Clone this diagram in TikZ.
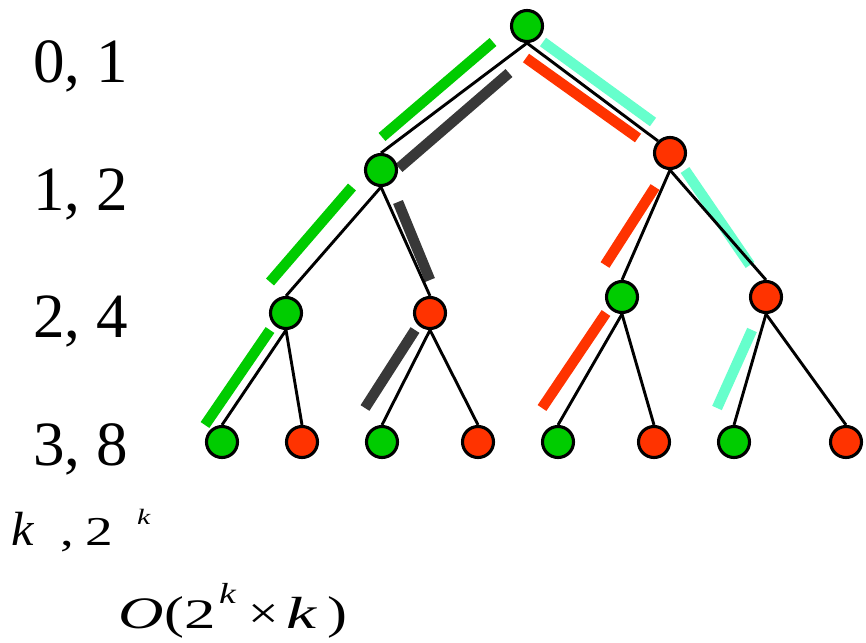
\documentclass[tikz,border=0pt]{standalone}
\usepackage{graphicx}
\usepackage{fontspec}
\setmainfont{Liberation Serif}
\definecolor{cgreen}{HTML}{00CC00}
\definecolor{cred}{HTML}{FF3300}
\definecolor{caqua}{HTML}{66FFCC}
\definecolor{cgray}{HTML}{383838}
\newcommand{\hsx}[2]{\scalebox{#1}[1]{#2}}
\begin{document}
\begin{tikzpicture}[x=1pt,y=-1pt,
  vnode/.style={circle,draw=black,line width=3.1pt,minimum size=31pt,inner sep=0pt},
  gnode/.style={vnode,fill=cgreen},
  rnode/.style={vnode,fill=cred},
  edgeline/.style={line width=2.9pt},
  bar/.style={line width=10.5pt,line cap=butt},
  lbl/.style={anchor=base west,inner sep=0pt,font=\fontsize{63}{63}\selectfont},
  fs/.style={anchor=base west,inner sep=0pt,font=\fontsize{#1}{#1}\selectfont}
]
\useasboundingbox[fill=white] (0,0) rectangle (866,642);

% colored bars
\draw[bar,cgreen] (493,42) -- (382,137);
\draw[bar,cgray]  (509,73) -- (399,168);
\draw[bar,cred]   (526,58) -- (638,138);
\draw[bar,caqua]  (543,42) -- (653,122);
\draw[bar,cgreen] (352,187) -- (270,282);
\draw[bar,cgray]  (398,202) -- (430,280);
\draw[bar,cred]   (655,187) -- (605,265);
\draw[bar,caqua]  (685,170) -- (750,265);
\draw[bar,cgreen] (270,330) -- (205,425);
\draw[bar,cgray]  (415,330) -- (365,408);
\draw[bar,cred]   (606,313) -- (542,408);
\draw[bar,caqua]  (752,330) -- (717,408);

% tree nodes
\node[gnode] (r) at (527,26) {};
\node[gnode] (a) at (381,170) {};
\node[rnode] (b) at (670,153) {};
\node[gnode] (c) at (286,313) {};
\node[rnode] (d) at (430,313) {};
\node[gnode] (e) at (622,297) {};
\node[rnode] (f) at (766,297) {};
\node[gnode] (l1) at (222,442) {};
\node[rnode] (l2) at (302,442) {};
\node[gnode] (l3) at (382,442) {};
\node[rnode] (l4) at (478,442) {};
\node[gnode] (l5) at (558,442) {};
\node[rnode] (l6) at (654,442) {};
\node[gnode] (l7) at (734,442) {};
\node[rnode] (l8) at (846,442) {};

% edges
\draw[edgeline] (r.south) -- (a.north);
\draw[edgeline] (r.south) -- (b.north west);
\draw[edgeline] (a.south) -- (c.north);
\draw[edgeline] (a.south) -- (d.north);
\draw[edgeline] (b.south) -- (e.north);
\draw[edgeline] (b.south) -- (f.north);
\draw[edgeline] (c.south) -- (l1.north);
\draw[edgeline] (c.south) -- (l2.north);
\draw[edgeline] (d.south) -- (l3.north);
\draw[edgeline] (d.south) -- (l4.north);
\draw[edgeline] (e.south) -- (l5.north);
\draw[edgeline] (e.south) -- (l6.north);
\draw[edgeline] (f.south) -- (l7.north);
\draw[edgeline] (f.south) -- (l8.north);

% level labels
\node[lbl] (t0) at (33,82) {0, 1};
\node[lbl] (t1) at (33,210) {1, 2};
\node[lbl] (t2) at (33,337) {2, 4};
\node[lbl] (t3) at (33,465) {3, 8};

% k , 2^k
\node[fs=48] (k1) at (11,545) {\hsx{1.05}{\textit{k}}};
\node[fs=42] (c1) at (60,545) {\hsx{1.3}{,}};
\node[fs=41] (two1) at (85,545) {\hsx{1.35}{2}};
\node[fs=22] (k2) at (137,524) {\hsx{1.35}{\textit{k}}};

% O(2^k x k)
\node[fs=45] (O) at (118,628) {\hsx{1.4}{\textit{O}}};
\node[fs=46] (lp) at (164,628) {\hsx{1.3}{(}};
\node[fs=42] (two2) at (184,628) {\hsx{1.5}{2}};
\node[fs=29] (k3) at (219,603) {\hsx{1.3}{\textit{k}}};
\node[fs=45] (times) at (248,628) {\hsx{1.2}{×}};
\node[fs=45] (k4) at (286,628) {\hsx{1.5}{\textit{k}}};
\node[fs=46] (rp) at (327,628) {\hsx{1.3}{)}};
\end{tikzpicture}
\end{document}
